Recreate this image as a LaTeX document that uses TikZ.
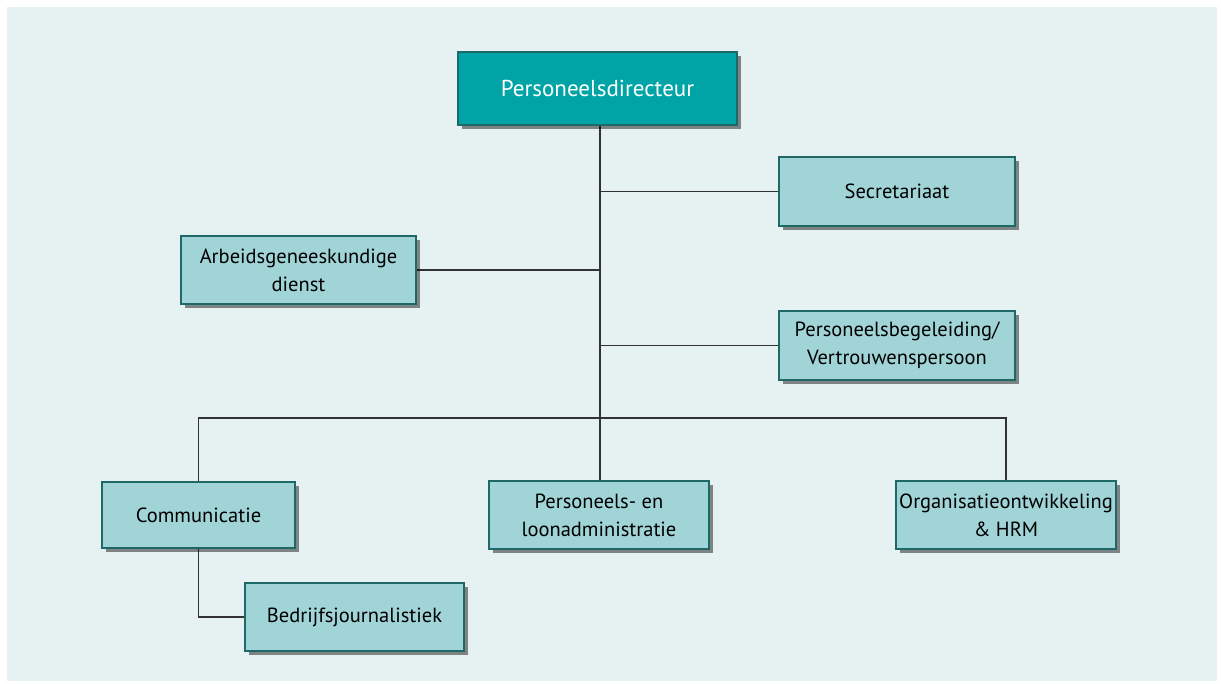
\documentclass[tikz,border=0pt]{standalone}
\usepackage{fontspec}
\setmainfont{PT Sans}
\usepackage{tikz}
\usetikzlibrary{positioning,calc,shadows,backgrounds}
\usepackage{xcolor}
\definecolor{PanelBg}{RGB}{230,241,241}
\definecolor{DirTeal}{RGB}{0,164,166}
\definecolor{UnitFill}{RGB}{160,212,215}
\definecolor{UnitEdge}{RGB}{30,104,104}
\definecolor{LinkGray}{RGB}{50,50,50}

\begin{document}
\begin{tikzpicture}[
  x=1pt, y=1pt,
  every node/.style={font=\fontsize{20.5}{28}\selectfont},
  unitbox/.style={draw=UnitEdge, fill=UnitFill, line width=1.3pt, align=center, inner sep=0pt,
    drop shadow={shadow xshift=4pt, shadow yshift=-4pt, opacity=0.45, fill=black}},
  dirbox/.style={unitbox, fill=DirTeal, text=white, font=\fontsize{23}{28}\selectfont},
  link/.style={draw=LinkGray, line width=1.2pt}
]
\useasboundingbox (0,0) rectangle (1221,684);

\node[dirbox, minimum width=279pt, minimum height=73pt] (dir) at (597.5,595.5) {Personeelsdirecteur};
\node[unitbox, minimum width=236pt, minimum height=69pt] (sec) at (897,492.5) {Secretariaat};
\node[unitbox, minimum width=235pt, minimum height=68pt] (arb) at (298.5,414) {Arbeidsgeneeskundige\\dienst};
\node[unitbox, minimum width=236pt, minimum height=69pt] (beg) at (897,338.5) {Personeelsbegeleiding/\\Vertrouwenspersoon};
\node[unitbox, minimum width=193pt, minimum height=66pt] (com) at (198.5,169) {Communicatie};
\node[unitbox, minimum width=220pt, minimum height=68pt] (loon) at (599,169) {Personeels- en\\loonadministratie};
\node[unitbox, minimum width=220pt, minimum height=68pt] (org) at (1006,169) {Organisatieontwikkeling\\\& HRM};
\node[unitbox, minimum width=219pt, minimum height=68pt] (bed) at (354.5,67) {Bedrijfsjournalistiek};

\coordinate (bus) at (600,266);

\begin{scope}[on background layer]
\fill[PanelBg] (7,3) rectangle (1217,677);
\draw[link] (dir.south -| bus) -- (bus |- loon.north);
\draw[link] (bus |- sec.west) -- (sec.west);
\draw[link] (bus |- arb.east) -- (arb.east);
\draw[link] (bus |- beg.west) -- (beg.west);
\draw[link] (com.north) |- (bus) -| (org.north);
\draw[link] (com.south) |- (bed.west);
\end{scope}
\end{tikzpicture}
\end{document}
